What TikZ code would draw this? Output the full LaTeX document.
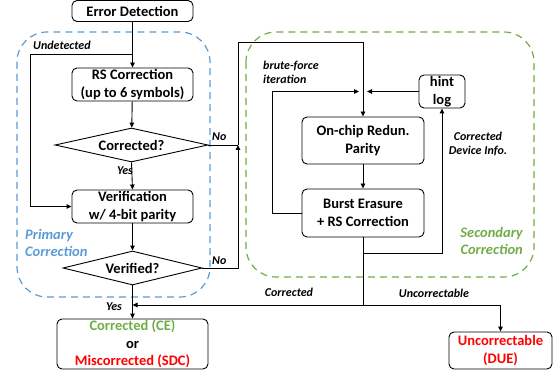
\documentclass[tikz,border=0pt]{standalone}
\usepackage{fontspec}
\setmainfont{Carlito}
\usetikzlibrary{shapes.geometric,arrows.meta}
\definecolor{pblue}{HTML}{5B9BD5}
\definecolor{sgreen}{HTML}{70AD47}
\definecolor{ured}{HTML}{FF0000}
\begin{document}
\begin{tikzpicture}[x=1pt,y=-1pt,
  box/.style={draw, line width=0.9pt, rounded corners=5pt, align=center, inner sep=0pt,
    font=\fontsize{14.5}{17.5}\selectfont\bfseries},
  dia/.style={draw, line width=0.9pt, diamond, aspect=4.5, inner sep=0pt,
    font=\fontsize{14.5}{17.5}\selectfont\bfseries},
  conn/.style={line width=0.9pt},
  arr/.style={conn, -{Triangle[length=5pt,width=4.5pt]}},
  lbl/.style={font=\fontsize{12}{14.5}\selectfont\bfseries\itshape, inner sep=0pt, align=left},
  region/.style={dashed, dash pattern=on 7pt off 5pt, line width=1.2pt, rounded corners=30pt},
  rlbl/.style={font=\fontsize{14.5}{17}\selectfont\bfseries\itshape, inner sep=0pt},
]
\useasboundingbox (0,0) rectangle (555,377);
% regions
\draw[region, pblue] (17,32) rectangle (210,297);
\draw[region, sgreen] (246,32) rectangle (534,277);
% nodes
\node[box, minimum width=121pt, minimum height=21pt] (ed) at (132.5,11) {Error Detection};
\node[box, minimum width=121pt, minimum height=33pt] (rs) at (132.5,84.5) {RS Correction\\(up to 6 symbols)};
\node[dia, minimum width=153pt, minimum height=34pt] (c1) at (131.5,145) {Corrected?};
\node[box, minimum width=121pt, minimum height=33pt] (ver) at (132.5,206.5) {Verification\\w/ 4-bit parity};
\node[dia, minimum width=139pt, minimum height=34pt] (v2) at (132.5,268) {Verified?};
\node[box, minimum width=151pt, minimum height=50pt] (ce) at (132.5,344) {\textcolor{sgreen}{Corrected (CE)}\\or\\\textcolor{ured}{Miscorrected (SDC)}};
\node[box, minimum width=122pt, minimum height=47pt] (oc) at (363,140.5) {On-chip Redun.\\Parity};
\node[box, minimum width=122pt, minimum height=48pt] (be) at (363,213) {Burst Erasure\\+ RS Correction};
\node[box, minimum width=46pt, minimum height=33pt] (hint) at (442,91.5) {hint\\log};
\node[box, minimum width=103pt, minimum height=37pt] (due) at (500.5,350.5) {\textcolor{ured}{Uncorrectable}\\\textcolor{ured}{(DUE)}};
% coordinates
\coordinate (und) at (132.5,54);
\coordinate (ul) at (30,54);
\coordinate (j1) at (238,145);
\coordinate (tl) at (238,42);
\coordinate (hj) at (367,91.5);
\coordinate (bfc) at (359,91.5);
\coordinate (bfl) at (272,213);
\coordinate (b1) at (363,253);
\coordinate (b2) at (363,305);
\coordinate (cej) at (132.5,305);
% connectors
\draw[arr] (ed) -- (rs);
\draw[arr] (und) -- (ul) |- (ver.west);
\draw[arr] (rs) -- (c1);
\draw[arr] (c1.south) -- (ver.north);
\draw[arr] (ver) -- (v2);
\draw[arr] (v2.south) -- (ce.north);
\draw[conn] (c1.east) -- (j1);
\draw[arr] (v2.east) -| (j1);
\draw[arr] (j1) -- (tl) -| (oc.north);
\draw[arr] (hint.west) -- (hj);
\draw[arr] (be.west) -- (bfl) |- (bfc);
\draw[arr] (oc) -- (be);
\draw[conn] (be.south) -- (b2);
\draw[arr] (b1) -| (hint.south);
\draw[arr] (b2) -- (cej);
\draw[arr] (b2) -| (due.north);
% labels
\node[lbl, anchor=west] (lund) at (33,45) {Undetected};
\node[lbl, anchor=west] (lno1) at (212,137) {No};
\node[lbl, anchor=west] (lno2) at (212,261) {No};
\node[lbl] (lyes1) at (125,171) {Yes};
\node[lbl] (lyes2) at (114,307) {Yes};
\node[lbl] (lcor) at (289,292) {Corrected};
\node[lbl] (lunc) at (434,293) {Uncorrectable};
\node[lbl, anchor=west] (lbf) at (263,72.5) {brute-force\\iteration};
\node[lbl, align=center] (lcdi) at (478,144) {Corrected\\Device Info.};
\node[rlbl, pblue, anchor=west, align=left] (lpri) at (25,243) {Primary\\Correction};
\node[rlbl, sgreen, anchor=east, align=right] (lsec) at (523,241) {Secondary\\Correction};
\end{tikzpicture}
\end{document}
